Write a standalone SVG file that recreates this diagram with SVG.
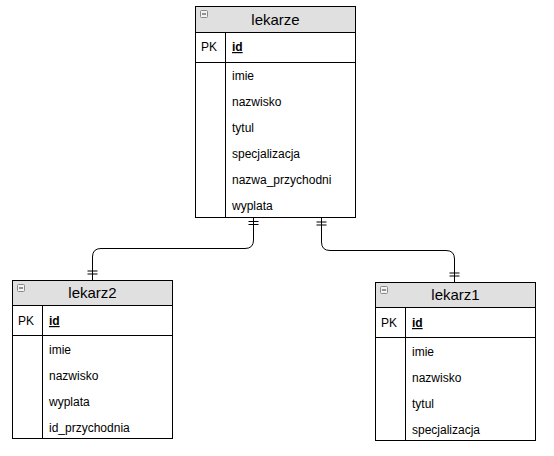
<svg xmlns="http://www.w3.org/2000/svg" width="554" height="456" viewBox="0 0 554 456">
<defs>
<style>
.box{fill:#ffffff;stroke:#000000;stroke-width:1}
.hdr{fill:#e0e0e0;stroke:#000000;stroke-width:1}
.ln{stroke:#000000;stroke-width:1;fill:none}
.title{font-family:"Liberation Sans",Arial,sans-serif;font-size:15px;fill:#000000;text-anchor:middle}
.t{font-family:"Liberation Sans",Arial,sans-serif;font-size:12px;fill:#000000}
.pk{font-family:"Liberation Sans",Arial,sans-serif;font-size:12px;fill:#000000;font-weight:bold;text-decoration:underline}
.ico{fill:#f2f2f2;stroke:#8a8a8a;stroke-width:1}
.conn{stroke:#000000;stroke-width:1;fill:none}
</style>
<g id="minus"><rect class="ico" x="0.5" y="0.5" width="7" height="7" rx="1"/><line x1="2" y1="4" x2="6" y2="4" stroke="#333" stroke-width="1"/></g>
</defs>
<g id="connectors">
<path class="conn" d="M253.5 218 V240 Q253.5 248.5 245 248.5 H101 Q92.5 248.5 92.5 257 V280"/>
<path class="conn" d="M248.5 221.5 H258.5 M248.5 224.5 H258.5"/>
<path class="conn" d="M87.5 271 H97.5 M87.5 274 H97.5"/>
<path class="conn" d="M321.5 218 V242 Q321.5 250.5 330 250.5 H446 Q454.5 250.5 454.5 259 V282"/>
<path class="conn" d="M316.5 222 H326.5 M316.5 225 H326.5"/>
<path class="conn" d="M449.5 273 H459.5 M449.5 276 H459.5"/>
</g>
<g id="lekarze">
<rect class="box" x="195.5" y="6.5" width="160" height="211"/>
<rect class="hdr" x="195.5" y="6.5" width="160" height="26"/>
<use href="#minus" x="200" y="10"/>
<text class="title" x="275.5" y="25">lekarze</text>
<line class="ln" x1="195.5" y1="62.5" x2="355.5" y2="62.5"/>
<line class="ln" x1="225.5" y1="32.5" x2="225.5" y2="217.5"/>
<text class="t" x="201" y="51">PK</text>
<text class="pk" x="232" y="51">id</text>
<text class="t" x="232" y="80">imie</text>
<text class="t" x="232" y="106">nazwisko</text>
<text class="t" x="232" y="132">tytul</text>
<text class="t" x="232" y="158">specjalizacja</text>
<text class="t" x="232" y="184">nazwa_przychodni</text>
<text class="t" x="232" y="210">wyplata</text>
</g>
<g id="lekarz2">
<rect class="box" x="12.5" y="280.5" width="160" height="158"/>
<rect class="hdr" x="12.5" y="280.5" width="160" height="25"/>
<use href="#minus" x="17" y="284"/>
<text class="title" x="92.5" y="298">lekarz2</text>
<line class="ln" x1="12.5" y1="335.5" x2="172.5" y2="335.5"/>
<line class="ln" x1="42.5" y1="305.5" x2="42.5" y2="438.5"/>
<text class="t" x="18" y="325">PK</text>
<text class="pk" x="49" y="325">id</text>
<text class="t" x="49" y="354">imie</text>
<text class="t" x="49" y="380">nazwisko</text>
<text class="t" x="49" y="406">wyplata</text>
<text class="t" x="49" y="432">id_przychodnia</text>
</g>
<g id="lekarz1">
<rect class="box" x="375.5" y="282.5" width="160" height="158"/>
<rect class="hdr" x="375.5" y="282.5" width="160" height="25"/>
<use href="#minus" x="380" y="286"/>
<text class="title" x="455.5" y="300">lekarz1</text>
<line class="ln" x1="375.5" y1="337.5" x2="535.5" y2="337.5"/>
<line class="ln" x1="405.5" y1="307.5" x2="405.5" y2="440.5"/>
<text class="t" x="381" y="327">PK</text>
<text class="pk" x="412" y="327">id</text>
<text class="t" x="412" y="356">imie</text>
<text class="t" x="412" y="382">nazwisko</text>
<text class="t" x="412" y="408">tytul</text>
<text class="t" x="412" y="434">specjalizacja</text>
</g>
</svg>
